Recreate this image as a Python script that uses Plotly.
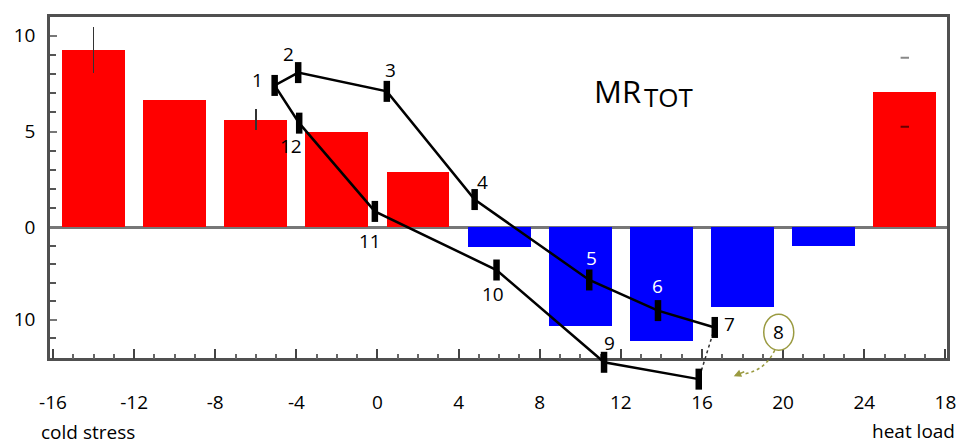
import plotly.graph_objects as go

# ---------------- data ----------------
BAR_X = [-14, -10, -6, -2, 2, 6, 10, 14, 18, 22, 26]
BAR_VALUES = [9.24, 6.63, 5.63, 4.97, 2.90, -1.04, -5.13, -5.94, -4.18, -0.98, 7.05]
BAR_ERR = [1.2, 0, 0.53, 0, 0, 0, 0, 0, 0, 0, 1.8]

LOOP_LABELS = ["1", "2", "3", "4", "5", "6", "7", "8", "9", "10", "11", "12"]
LOOP_X = [-5.07, -3.91, 0.46, 4.79, 10.44, 13.83, 16.63, 15.84, 11.17, 5.87, -0.13, -3.86]
LOOP_Y = [7.41, 8.08, 7.10, 1.45, -2.75, -4.35, -5.23, -7.93, -7.05, -2.23, 0.83, 5.44]

X_TICK_VALS = [-16, -12, -8, -4, 0, 4, 8, 12, 16, 20, 24, 28]
X_TICK_TEXT = ["-16", "-12", "-8", "-4", "0", "4", "8", "12", "16", "20", "24", "18"]
Y_TICK_VALS = [10, 5, 0, -4.82]
Y_TICK_TEXT = ["10", "5", "0", "10"]
Y_MINOR_VALS = [1, 2, 3, 4, 6, 7, 8, 9, -0.96, -1.93, -2.89, -3.86, -5.78]

# ---------------- layout constants ----------------
# the page body adds an 8px offset, so the figure is 8px smaller than the window
OFF = 8
W, H = 967 - OFF, 445 - OFF
ML, MR_, MT, MB = 47 - OFF, 20, 14 - OFF, 55
X_RANGE = [-16.147, 28.08]
Y_RANGE_MAIN = [-6.84, 10.984]
Y_RANGE_FULL = [-8.497, 10.984]
MAIN_Y_DOMAIN = [0.0851, 1.0]
FONT = "Open Sans"
FRAME = "#505050"

BAR_COLORS = ["#ff0000" if v > 0 else "#0000ff" for v in BAR_VALUES]

fig = go.Figure()

# bars with error bars (all but the last, whose error is drawn as dashes)
err_main = [e if i < len(BAR_ERR) - 1 else 0 for i, e in enumerate(BAR_ERR)]
fig.add_trace(go.Bar(
    x=BAR_X, y=BAR_VALUES, width=3.1,
    marker=dict(color=BAR_COLORS, line=dict(width=0)),
    error_y=dict(type="data", array=err_main, visible=True,
                 thickness=1.5, width=0, color="#333333"),
    xaxis="x", yaxis="y", showlegend=False, hoverinfo="skip",
))
last = len(BAR_VALUES) - 1
fig.add_trace(go.Scatter(
    x=[BAR_X[last], BAR_X[last]],
    y=[BAR_VALUES[last] + BAR_ERR[last], BAR_VALUES[last] - BAR_ERR[last]],
    mode="markers",
    marker=dict(symbol="line-ew", size=6,
                line=dict(width=2, color=["#888888", "#660000"])),
    xaxis="x", yaxis="y", showlegend=False, hoverinfo="skip",
))

# loop line (on an overlapping, invisible subplot so it is not clipped at the axis)
order = [7, 8, 9, 10, 11, 0, 1, 2, 3, 4, 5, 6]
fig.add_trace(go.Scatter(
    x=[LOOP_X[i] for i in order], y=[LOOP_Y[i] for i in order],
    mode="lines", line=dict(color="black", width=2.5),
    xaxis="x2", yaxis="y2", showlegend=False, hoverinfo="skip",
))
fig.add_trace(go.Scatter(
    x=[LOOP_X[6], LOOP_X[7]], y=[LOOP_Y[6], LOOP_Y[7]],
    mode="lines", line=dict(color="#333333", width=1.5, dash="dot"),
    xaxis="x2", yaxis="y2", showlegend=False, hoverinfo="skip",
))
fig.add_trace(go.Scatter(
    x=LOOP_X, y=LOOP_Y, mode="markers",
    marker=dict(symbol="line-ns", size=15, line=dict(width=6.5, color="black")),
    xaxis="x2", yaxis="y2", showlegend=False, hoverinfo="skip", cliponaxis=False,
))

# point labels (screen-pixel offsets from each point: dx right, dy down)
LABEL_OFFSETS = {0: (-17.5, -5), 1: (-10, -19), 2: (4, -21), 3: (8, -18),
                 4: (2, -22), 5: (0, -25), 6: (15, -3), 8: (5, -19),
                 9: (-4, 24), 10: (-5, 30), 11: (-8, 23)}
annotations = []
for i, (dx, dy) in LABEL_OFFSETS.items():
    annotations.append(dict(
        x=LOOP_X[i], y=LOOP_Y[i], xref="x2", yref="y2",
        text=LOOP_LABELS[i], showarrow=False, xshift=dx, yshift=-dy,
        font=dict(family=FONT, size=19, color="white" if i in (4, 5) else "black"),
    ))

OLIVE = "#9a9a40"
annotations.append(dict(
    x=LOOP_X[7], y=LOOP_Y[7], xref="x2", yref="y2", text=LOOP_LABELS[7],
    showarrow=False, xshift=80, yshift=47,
    font=dict(family=FONT, size=19, color="black"),
))
annotations.append(dict(
    x=LOOP_X[7], y=LOOP_Y[7], xref="x2", yref="y2", text="",
    showarrow=True, xshift=35, yshift=3, ax=12, ay=-5, axref="pixel", ayref="pixel",
    arrowhead=2, arrowsize=1, arrowwidth=1.5, arrowcolor=OLIVE, standoff=0,
))


def px2paper_x(px):
    return (px - OFF - ML) / (W - ML - MR_)


def px2paper_y(py):
    return (OFF + H - MB - py) / (H - MB - MT)


annotations += [
    dict(x=px2paper_x(85), y=px2paper_y(432), xref="paper", yref="paper",
         text="cold stress", showarrow=False, xanchor="center", yanchor="middle",
         font=dict(family=FONT, size=19, color="black")),
    dict(x=px2paper_x(957), y=px2paper_y(431), xref="paper", yref="paper",
         text="heat load", showarrow=False, xanchor="right", yanchor="middle",
         font=dict(family=FONT, size=19, color="black")),
    dict(x=px2paper_x(591), y=px2paper_y(89), xref="paper", yref="paper",
         text="MR", showarrow=False, xanchor="left", yanchor="middle",
         font=dict(family=FONT, size=31, color="black")),
    dict(x=px2paper_x(641), y=px2paper_y(95), xref="paper", yref="paper",
         text="TOT", showarrow=False, xanchor="left", yanchor="middle",
         font=dict(family=FONT, size=26, color="black")),
]

shapes = [
    dict(type="circle", xref="x2", yref="y2",
         xsizemode="pixel", ysizemode="pixel",
         xanchor=LOOP_X[7], yanchor=LOOP_Y[7],
         x0=65, x1=95, y0=29, y1=65,
         line=dict(color=OLIVE, width=1.5)),
    dict(type="path", xref="x2", yref="y2",
         xsizemode="pixel", ysizemode="pixel",
         xanchor=LOOP_X[7], yanchor=LOOP_Y[7],
         path="M 76,29 Q 66,8 44,5",
         line=dict(color=OLIVE, width=1.5, dash="dot")),
]

fig.update_layout(
    width=W, height=H,
    margin=dict(l=ML, r=MR_, t=MT, b=MB, pad=0),
    paper_bgcolor="white", plot_bgcolor="rgba(0,0,0,0)",
    showlegend=False, bargap=0,
    font=dict(family=FONT, size=19, color="black"),
    xaxis=dict(
        domain=[0, 1], anchor="y", range=X_RANGE,
        tickmode="array", tickvals=X_TICK_VALS, ticktext=X_TICK_TEXT,
        ticks="inside", ticklen=10, tickwidth=1.5, tickcolor="#444444",
        minor=dict(tickmode="linear", tick0=0, dtick=1, ticks="inside",
                   ticklen=5, tickwidth=1.5, tickcolor="#666666"),
        showline=True, mirror=True, linecolor=FRAME, linewidth=2.5,
        showgrid=False, zeroline=False, ticklabelstandoff=25,
        tickfont=dict(family=FONT, size=19, color="black"),
    ),
    yaxis=dict(
        domain=MAIN_Y_DOMAIN, anchor="x", range=Y_RANGE_MAIN,
        tickmode="array", tickvals=Y_TICK_VALS, ticktext=Y_TICK_TEXT,
        ticks="inside", ticklen=7, tickwidth=1.5, tickcolor="#777777",
        minor=dict(tickmode="array", tickvals=Y_MINOR_VALS, ticks="inside",
                   ticklen=6, tickwidth=2, tickcolor="#555555"),
        showline=True, mirror=True, linecolor=FRAME, linewidth=2.5,
        showgrid=False, zeroline=True, zerolinecolor="#777777", zerolinewidth=2.5,
        ticklabelstandoff=8,
        tickfont=dict(family=FONT, size=19, color="black"),
    ),
    xaxis2=dict(domain=[0, 1], anchor="y2", range=X_RANGE, visible=False),
    yaxis2=dict(domain=[0, 1], anchor="x2", range=Y_RANGE_FULL, visible=False),
    annotations=annotations,
    shapes=shapes,
)

fig.write_html("out.html")
